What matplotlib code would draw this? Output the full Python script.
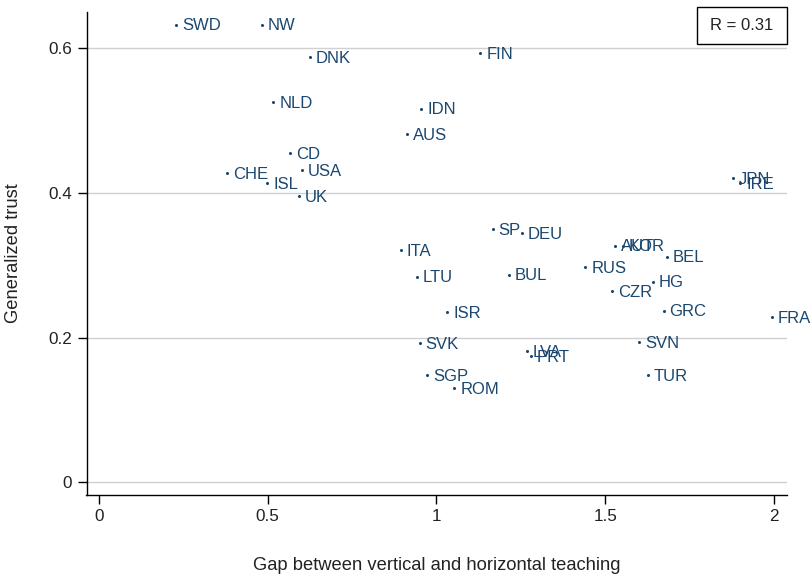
import matplotlib
matplotlib.use("Agg")
import matplotlib.pyplot as plt
from matplotlib.patches import Rectangle

plt.rcParams['font.family'] = ['Liberation Sans', 'DejaVu Sans']

countries = ["SWD", "NW", "DNK", "FIN", "NLD", "IDN", "AUS", "CD", "USA", "CHE",
             "ISL", "UK", "JPN", "IRE", "SP", "DEU", "ITA", "AUT", "KOR", "BEL",
             "RUS", "LTU", "BUL", "HG", "CZR", "ISR", "GRC", "FRA", "SVN", "SVK",
             "LVA", "PRT", "TUR", "SGP", "ROM"]
gap = [0.229, 0.484, 0.624, 1.130, 0.517, 0.955, 0.914, 0.567, 0.601, 0.379,
       0.499, 0.592, 1.877, 1.900, 1.167, 1.254, 0.895, 1.530, 1.551, 1.683,
       1.441, 0.943, 1.214, 1.641, 1.520, 1.032, 1.673, 1.994, 1.601, 0.950,
       1.268, 1.280, 1.626, 0.972, 1.053]
trust = [0.632, 0.632, 0.587, 0.593, 0.525, 0.516, 0.481, 0.455, 0.431, 0.427,
         0.413, 0.395, 0.420, 0.413, 0.350, 0.344, 0.321, 0.327, 0.327, 0.312,
         0.297, 0.284, 0.287, 0.277, 0.264, 0.235, 0.237, 0.228, 0.194, 0.192,
         0.181, 0.174, 0.148, 0.148, 0.130]
xticks = [0, 0.5, 1, 1.5, 2]
xticklabels = ["0", "0.5", "1", "1.5", "2"]
yticks = [0, 0.2, 0.4, 0.6]
yticklabels = ["0", "0.2", "0.4", "0.6"]
r_text = "R = 0.31"

navy = "#1a476f"
W, H = 811, 578

fig = plt.figure(figsize=(8.11, 5.78), dpi=100)
ax = fig.add_axes([86.5 / W, 1 - 494.5 / H, (787 - 86.5) / W, (494.5 - 12) / H])

ax.plot(gap, trust, linestyle='none', marker='o', markersize=1.2, color=navy)
for c, x, y in zip(countries, gap, trust):
    ax.annotate(c, (x, y), xytext=(4.2, -0.8), textcoords='offset points',
                ha='left', va='center', fontsize=12, color=navy)

ax.set_xlim(-0.0365, 2.038)
ax.set_ylim(-0.0167, 0.6497)
ax.set_xticks(xticks)
ax.set_xticklabels(xticklabels)
ax.set_yticks(yticks)
ax.set_yticklabels(yticklabels)
ax.tick_params(axis='both', direction='out', length=6.5, width=1, labelsize=12.3,
               color='black', labelcolor='#222222', pad=4)
ax.yaxis.grid(True, color='#d0d0d0', linewidth=1)
ax.set_axisbelow(True)
for s in ['top', 'right']:
    ax.spines[s].set_visible(False)
for s in ['left', 'bottom']:
    ax.spines[s].set_linewidth(1)

ax.set_xlabel("Gap between vertical and horizontal teaching", fontsize=13.2, labelpad=24,
              color='#222222')
ax.set_ylabel("Generalized trust", fontsize=13.2, labelpad=19, color='#222222')

fig.patches.append(Rectangle((696.5 / W, 1 - 44 / H), (787 - 696.5) / W, 37 / H,
                             transform=fig.transFigure, facecolor='white',
                             edgecolor='black', linewidth=1, zorder=5))
fig.text(741.5 / W, 1 - 26 / H, r_text, ha='center', va='center', fontsize=12,
         color='#222222', zorder=6)

fig.savefig("out.png", dpi=100)
